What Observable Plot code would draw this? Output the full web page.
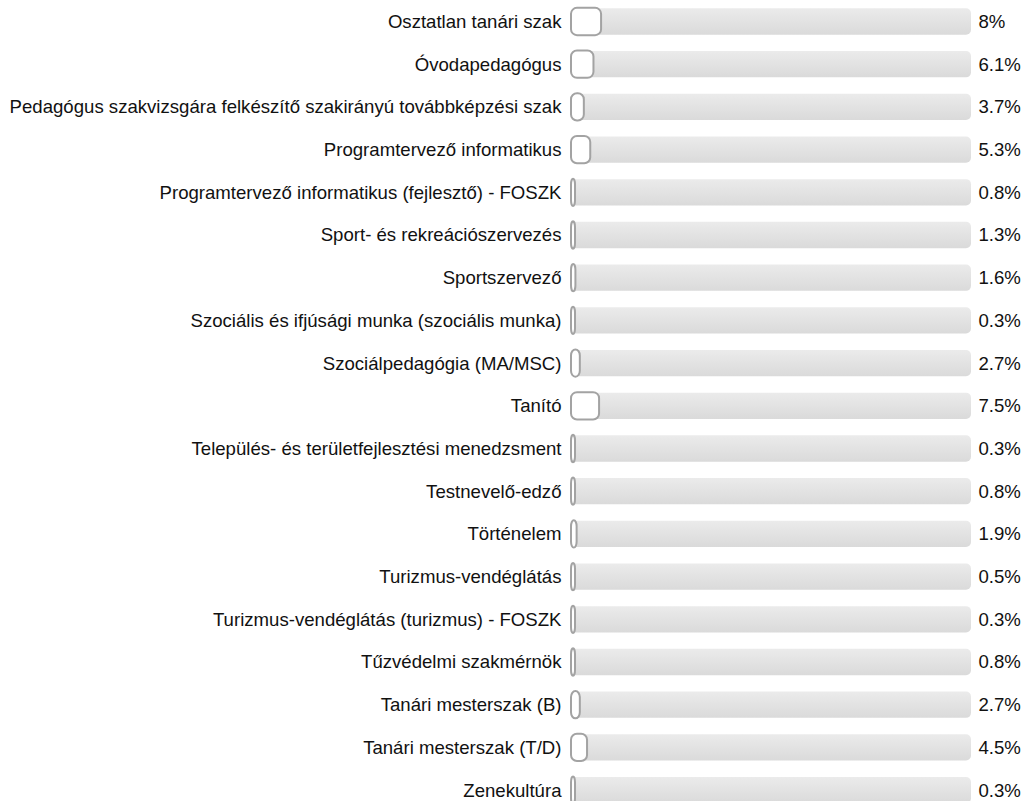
<!DOCTYPE html>
<html>
<head>
<meta charset="utf-8">
<script src="https://cdn.jsdelivr.net/npm/d3@7"></script>
<script src="https://cdn.jsdelivr.net/npm/@observablehq/plot@0.6"></script>
<style>
  html, body { margin: 0; padding: 0; background: #fff; }
  #chart svg { display: block; }
</style>
</head>
<body>
<div id="chart"></div>
<script>
const categories = [
  "Osztatlan tanári szak",
  "Óvodapedagógus",
  "Pedagógus szakvizsgára felkészítő szakirányú továbbképzési szak",
  "Programtervező informatikus",
  "Programtervező informatikus (fejlesztő) - FOSZK",
  "Sport- és rekreációszervezés",
  "Sportszervező",
  "Szociális és ifjúsági munka (szociális munka)",
  "Szociálpedagógia (MA/MSC)",
  "Tanító",
  "Település- és területfejlesztési menedzsment",
  "Testnevelő-edző",
  "Történelem",
  "Turizmus-vendéglátás",
  "Turizmus-vendéglátás (turizmus) - FOSZK",
  "Tűzvédelmi szakmérnök",
  "Tanári mesterszak (B)",
  "Tanári mesterszak (T/D)",
  "Zenekultúra"
];
const values = [8, 6.1, 3.7, 5.3, 0.8, 1.3, 1.6, 0.3, 2.7, 7.5, 0.3, 0.8, 1.9, 0.5, 0.3, 0.8, 2.7, 4.5, 0.3];

// minimum visible bar length (like a CSS border keeping a tiny bar visible)
const minShown = 1.5;

const data = categories.map((c, i) => ({category: c, value: values[i], full: 100}));

const plot = Plot.plot({
  width: 1023,
  height: 801,
  marginLeft: 570,
  marginRight: 52,
  marginTop: 0,
  marginBottom: 0,
  style: {fontFamily: "Arial, 'Liberation Sans', sans-serif", fontSize: "18.6px", background: "#fff"},
  x: {domain: [0, 100], axis: null},
  y: {type: "band", domain: categories, range: [0.15, 811.45], paddingInner: 0.36, paddingOuter: 0.18, round: false, axis: null},
  marks: [
    Plot.barX(data, {y: "category", x1: 0, x2: "full", fill: "url(#trackGrad)", rx: 5, insetLeft: 1, insetTop: 0.5, insetBottom: 0.5}),
    Plot.barX(data, {y: "category", x1: 0, x2: d => Math.max(d.value, minShown), insetLeft: 1, insetRight: 1, fill: "white", stroke: "#a3a3a3", strokeWidth: 2, rx: 6}),
    Plot.text(data, {y: "category", x: 0, text: "category", textAnchor: "end", dx: -9, fill: "#111", fontSize: 18.6}),
    Plot.text(data, {y: "category", x: 100, text: d => d.value + "%", textAnchor: "start", dx: 7, fill: "#111", fontSize: 18.6})
  ]
});

plot.insertAdjacentHTML("afterbegin",
  '<defs><linearGradient id="trackGrad" x1="0" y1="0" x2="0" y2="1">' +
  '<stop offset="0" stop-color="#ebebeb"/><stop offset="1" stop-color="#dadada"/>' +
  '</linearGradient></defs>');

document.getElementById("chart").appendChild(plot);
</script>
</body>
</html>
